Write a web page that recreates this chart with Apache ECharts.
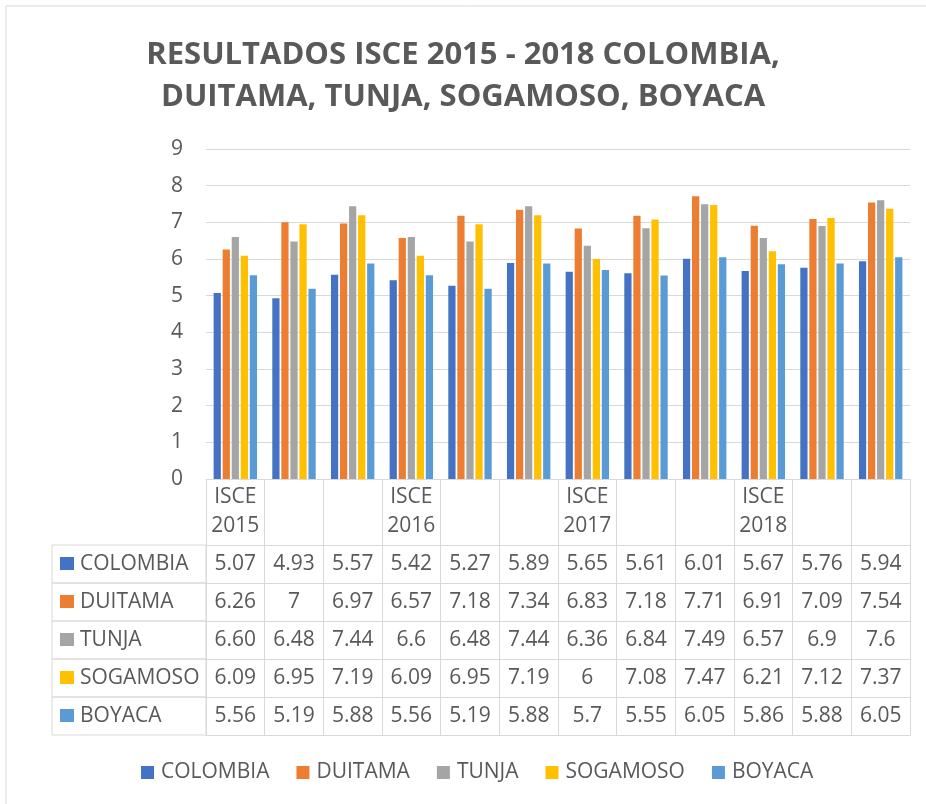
<!DOCTYPE html>
<html>
<head>
<meta charset="utf-8">
<title>ISCE 2015 - 2018</title>
<script src="https://cdn.jsdelivr.net/npm/echarts@6/dist/echarts.min.js"></script>
<style>
  html, body { margin: 0; padding: 0; background: #fff; }
  .grafico { width: 926px; height: 804px; }
</style>
</head>
<body>
<div class="grafico"></div>
<script>
// datos de la tabla
var categorias = ['ISCE 2015', '', '', 'ISCE 2016', '', '', 'ISCE 2017', '', '', 'ISCE 2018', '', ''];
var nombres = ['COLOMBIA', 'DUITAMA', 'TUNJA', 'SOGAMOSO', 'BOYACA'];
var colombia = ['5.07', '4.93', '5.57', '5.42', '5.27', '5.89', '5.65', '5.61', '6.01', '5.67', '5.76', '5.94'];
var duitama  = ['6.26', '7', '6.97', '6.57', '7.18', '7.34', '6.83', '7.18', '7.71', '6.91', '7.09', '7.54'];
var tunja    = ['6.60', '6.48', '7.44', '6.6', '6.48', '7.44', '6.36', '6.84', '7.49', '6.57', '6.9', '7.6'];
var sogamoso = ['6.09', '6.95', '7.19', '6.09', '6.95', '7.19', '6', '7.08', '7.47', '6.21', '7.12', '7.37'];
var boyaca   = ['5.56', '5.19', '5.88', '5.56', '5.19', '5.88', '5.7', '5.55', '6.05', '5.86', '5.88', '6.05'];
var yTicks = [0, 1, 2, 3, 4, 5, 6, 7, 8, 9];

var filas = [colombia, duitama, tunja, sogamoso, boyaca];
var colores = ['#4472C4', '#ED7D31', '#A5A5A5', '#FFC000', '#5B9BD5'];

var fuente = 'Open Sans';
var gris = '#595959';
var linea = '#d9d9d9';

// medidas de la tabla
var izq = 206, der = 16, arriba = 149, abajo = 325;
var altoCab = 66, altoFila = 38;
var ejeY = 804 - abajo;

var chart = echarts.init(document.querySelector('.grafico'));

// eje de cabecera + un eje por fila de la tabla
var ejesX = [{
  type: 'category',
  data: categorias,
  position: 'bottom',
  axisLine: { lineStyle: { color: linea, width: 1 } },
  axisTick: { show: true, length: altoCab, lineStyle: { color: linea } },
  axisLabel: {
    interval: 0, margin: 4, fontSize: 21, lineHeight: 29,
    fontFamily: fuente, color: gris,
    formatter: function (v) { return v.replace(' ', '\n'); }
  }
}];

filas.forEach(function (fila, i) {
  ejesX.push({
    type: 'category',
    data: categorias,
    position: 'bottom',
    offset: altoCab + altoFila * i,
    axisLine: { lineStyle: { color: linea, width: 1 } },
    axisTick: { show: true, length: altoFila, lineStyle: { color: linea } },
    axisLabel: {
      interval: 0, margin: 0, fontSize: 21, lineHeight: altoFila,
      fontFamily: fuente, color: gris,
      formatter: function (v, idx) { return fila[idx]; }
    }
  });
});

// linea de cierre de la tabla
ejesX.push({
  type: 'category',
  data: categorias,
  position: 'bottom',
  offset: altoCab + altoFila * filas.length,
  axisLine: { lineStyle: { color: linea, width: 1 } },
  axisTick: { show: false },
  axisLabel: { show: false }
});

// columna izquierda con los nombres
var graficos = [{
  type: 'rect',
  shape: { x: 6, y: 6, width: 940, height: 820 },
  style: { fill: 'none', stroke: linea, lineWidth: 1 }
}];
nombres.forEach(function (n, i) {
  var y0 = ejeY + altoCab + altoFila * i;
  graficos.push({
    type: 'rect',
    shape: { x: 52, y: y0, width: izq - 52, height: altoFila },
    style: { fill: 'none', stroke: linea, lineWidth: 1 }
  });
  graficos.push({
    type: 'rect',
    shape: { x: 60, y: y0 + 12, width: 14, height: 13 },
    style: { fill: colores[i] }
  });
  graficos.push({
    type: 'text',
    x: 80, y: y0 + altoFila / 2,
    style: { text: n, fontSize: 21, fontFamily: fuente, fill: gris, verticalAlign: 'middle' }
  });
});

var option = {
  color: colores,
  title: {
    text: 'RESULTADOS ISCE 2015 - 2018 COLOMBIA,\nDUITAMA, TUNJA, SOGAMOSO, BOYACA',
    left: 'center',
    top: 29,
    textStyle: { fontFamily: fuente, fontWeight: 'bold', fontSize: 31, lineHeight: 42, color: gris }
  },
  legend: {
    data: nombres,
    left: 136,
    top: 757,
    itemWidth: 13,
    itemHeight: 13,
    itemGap: 27,
    icon: 'rect',
    textStyle: { fontFamily: fuente, fontSize: 21, color: gris, padding: [0, 0, 0, 2] }
  },
  grid: { left: izq, right: der, top: arriba, bottom: abajo, containLabel: false },
  xAxis: ejesX,
  yAxis: {
    type: 'value',
    min: yTicks[0],
    max: yTicks[yTicks.length - 1],
    interval: 1,
    axisLine: { show: false },
    axisTick: { show: false },
    axisLabel: { fontSize: 21, fontFamily: fuente, color: gris, margin: 23 },
    splitLine: { lineStyle: { color: linea, width: 1 } }
  },
  series: nombres.map(function (n, i) {
    return {
      name: n,
      type: 'bar',
      xAxisIndex: 0,
      barGap: '25%',
      barCategoryGap: '26%',
      data: filas[i].map(Number)
    };
  }),
  graphic: graficos
};

chart.setOption(option);
</script>
</body>
</html>
